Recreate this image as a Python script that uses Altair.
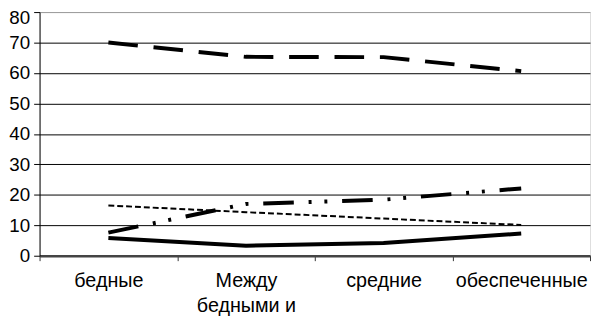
import altair as alt
import pandas as pd

categories = ["бедные", "Между бедными и", "средние", "обеспеченные"]
series_names = ["Ряд 1", "Ряд 2", "Ряд 3", "Ряд 4"]
series_long_dash = [70.0, 65.3, 65.2, 60.6]
series_dash_dot = [7.6, 17.0, 18.4, 22.1]
series_thin_dash = [16.5, 14.3, 12.2, 10.1]
series_solid = [5.8, 3.3, 4.2, 7.3]
y_ticks = [0, 10, 20, 30, 40, 50, 60, 70, 80]

values = [series_long_dash, series_dash_dot, series_thin_dash, series_solid]
styles = [
    dict(strokeWidth=4, strokeDash=[30, 16]),
    dict(strokeWidth=4, strokeDash=[31, 15, 3, 13, 3, 15]),
    dict(strokeWidth=2, strokeDash=[6, 3]),
    dict(strokeWidth=4),
]

rows = []
for name, vals in zip(series_names, values):
    for c, v in zip(categories, vals):
        rows.append({"series": name, "category": c, "value": v})
df = pd.DataFrame(rows)

label_expr = "datum.label == 'Между бедными и' ? ['Между', 'бедными и'] : datum.label"

x_enc = alt.X(
    "category:N",
    sort=categories,
    scale=alt.Scale(type="band", paddingInner=0, paddingOuter=0),
    axis=alt.Axis(
        title=None,
        tickBand="extent",
        labelAngle=0,
        labelExpr=label_expr,
        labelFont="Liberation Sans",
        labelFontSize=20,
        labelColor="#000",
        labelLineHeight=26,
        labelPadding=10,
        tickSize=5,
        tickColor="#333",
        domainColor="#444",
        domainWidth=2.5,
        grid=False,
    ),
)
y_enc = alt.Y(
    "value:Q",
    scale=alt.Scale(domain=[0, 80], nice=False, zero=True),
    axis=alt.Axis(
        title=None,
        values=y_ticks,
        labelFont="Liberation Sans",
        labelFontSize=19,
        labelColor="#000",
        labelPadding=4,
        labelOffset={"condition": {"test": "datum.value === 80", "value": 6}, "value": 0},
        tickSize=6,
        tickColor="#000",
        domainColor="#000",
        domainWidth=1,
        grid=True,
        gridColor={"condition": {"test": "datum.value === 80", "value": "#999"}, "value": "#000"},
        gridWidth=1,
    ),
)

layers = []
for name, st in zip(series_names, styles):
    layers.append(
        alt.Chart(df[df["series"] == name])
        .mark_line(color="#000", strokeCap="butt", **st)
        .encode(x=x_enc, y=y_enc)
    )

chart = (
    alt.layer(*layers)
    .properties(
        width=558,
        height=247,
        padding={"left": 32, "top": 2, "right": 1, "bottom": 61},
        autosize=alt.AutoSizeParams(type="none"),
    )
    .configure_view(stroke="#999", strokeWidth=1.5)
    .configure(background="white")
)

chart.save("out.html", embed_options={"renderer": "svg", "actions": False})
